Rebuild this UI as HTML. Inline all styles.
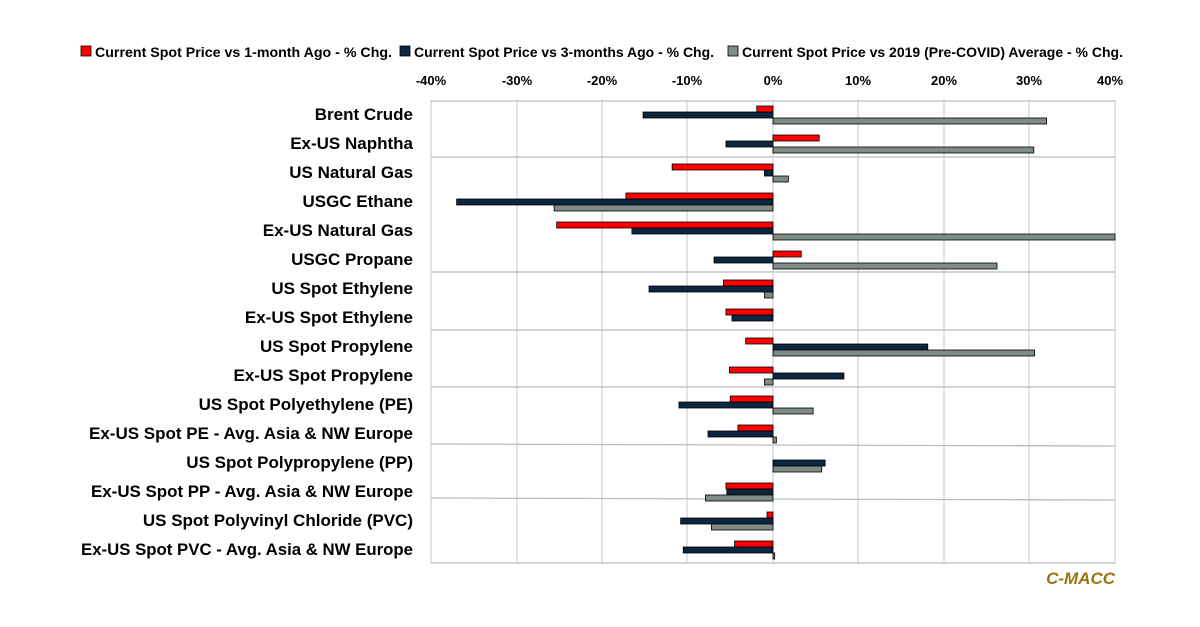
<!DOCTYPE html>
<html><head><meta charset="utf-8"><style>body{margin:0;background:#fff}svg{display:block;font-family:"Liberation Sans",Arial,sans-serif}</style></head><body>
<svg width="1200" height="627" viewBox="0 0 1200 627" xmlns="http://www.w3.org/2000/svg">
<g font-weight="bold" font-size="14" fill="#000">
<rect x="81" y="46" width="10" height="10" fill="#ff0000" stroke="#000" stroke-width="0.8"/><text x="95" y="57" textLength="297" lengthAdjust="spacingAndGlyphs">Current Spot Price vs 1-month Ago - % Chg.</text>
<rect x="400" y="46" width="10" height="10" fill="#0b2640" stroke="#000" stroke-width="0.8"/><text x="414" y="57" textLength="300" lengthAdjust="spacingAndGlyphs">Current Spot Price vs 3-months Ago - % Chg.</text>
<rect x="728" y="46" width="10" height="10" fill="#7f8c84" stroke="#000" stroke-width="0.8"/><text x="742" y="57" textLength="381" lengthAdjust="spacingAndGlyphs">Current Spot Price vs 2019 (Pre-COVID) Average - % Chg.</text>
</g>
<g font-weight="bold" font-size="13" text-anchor="middle">
<text x="431" y="85">-40%</text><text x="517" y="85">-30%</text><text x="602" y="85">-20%</text><text x="687" y="85">-10%</text><text x="773" y="85">0%</text><text x="858" y="85">10%</text><text x="944" y="85">20%</text><text x="1029" y="85">30%</text><text x="1110" y="85">40%</text>
</g>
<g stroke="#d6d6d6" stroke-width="1.3">
<line x1="431" y1="100" x2="431" y2="563"/><line x1="517" y1="100" x2="517" y2="563"/><line x1="602" y1="100" x2="602" y2="563"/><line x1="687" y1="100" x2="687" y2="563"/><line x1="858" y1="100" x2="858" y2="563"/><line x1="944" y1="100" x2="944" y2="563"/><line x1="1029" y1="100" x2="1029" y2="563"/><line x1="1115" y1="100" x2="1115" y2="563"/>
</g>
<g stroke="#b8bcbc" stroke-width="1.3">
<line x1="431" y1="101" x2="1115" y2="101"/><line x1="431" y1="157" x2="1115" y2="157"/><line x1="431" y1="272" x2="1115" y2="272"/><line x1="431" y1="330" x2="1115" y2="330"/><line x1="431" y1="387" x2="1115" y2="387"/><line x1="431" y1="444" x2="1115" y2="446"/><line x1="431" y1="498" x2="1115" y2="500"/><line x1="431" y1="563" x2="1115" y2="563"/>
</g>
<line x1="773" y1="100" x2="773" y2="563" stroke="#d6d6d6" stroke-width="1.3"/>
<g id="bars" stroke="#000" stroke-width="0.8"></g>
<g font-weight="bold" font-size="17" text-anchor="end" fill="#000">
<text x="413" y="120">Brent Crude</text><text x="413" y="149">Ex-US Naphtha</text><text x="413" y="178">US Natural Gas</text><text x="413" y="207">USGC Ethane</text><text x="413" y="236">Ex-US Natural Gas</text><text x="413" y="265">USGC Propane</text><text x="413" y="294">US Spot Ethylene</text><text x="413" y="323">Ex-US Spot Ethylene</text><text x="413" y="352">US Spot Propylene</text><text x="413" y="381">Ex-US Spot Propylene</text><text x="413" y="410">US Spot Polyethylene (PE)</text><text x="413" y="439" textLength="324" lengthAdjust="spacingAndGlyphs">Ex-US Spot PE - Avg. Asia &amp; NW Europe</text><text x="413" y="468">US Spot Polypropylene (PP)</text><text x="413" y="497" textLength="322" lengthAdjust="spacingAndGlyphs">Ex-US Spot PP - Avg. Asia &amp; NW Europe</text><text x="413" y="526">US Spot Polyvinyl Chloride (PVC)</text><text x="413" y="555" textLength="332" lengthAdjust="spacingAndGlyphs">Ex-US Spot PVC - Avg. Asia &amp; NW Europe</text>
</g>
<text x="1115" y="584" text-anchor="end" font-weight="bold" font-style="italic" font-size="17" fill="#9a7410">C-MACC</text>
</svg>
<script>
var d=[[-1.9,-15.2,32],[5.4,-5.5,30.5],[-11.8,-1,1.8],[-17.2,-37,-25.6],[-25.3,-16.5,40],[3.3,-6.9,26.2],[-5.8,-14.5,-1],[-5.5,-4.8,0],[-3.2,18.1,30.6],[-5.1,8.3,-1],[-5,-11,4.7],[-4.1,-7.6,0.4],[0,6.1,5.7],[-5.5,-5.4,-7.9],[-0.7,-10.8,-7.2],[-4.5,-10.5,0.2]];
var c=["#ff0000","#0b2640","#7f8c84"],g=document.getElementById("bars"),s="";
d.forEach(function(r,i){var cy=114+29*i;r.forEach(function(v,j){if(v==0)return;var x0=773,x1=773+v*8.55;var y=cy-8+j*6;s+='<rect x="'+Math.min(x0,x1)+'" y="'+y+'" width="'+Math.abs(x1-x0)+'" height="6" fill="'+c[j]+'"/>';});});
g.innerHTML=s;
</script>
</body></html>
